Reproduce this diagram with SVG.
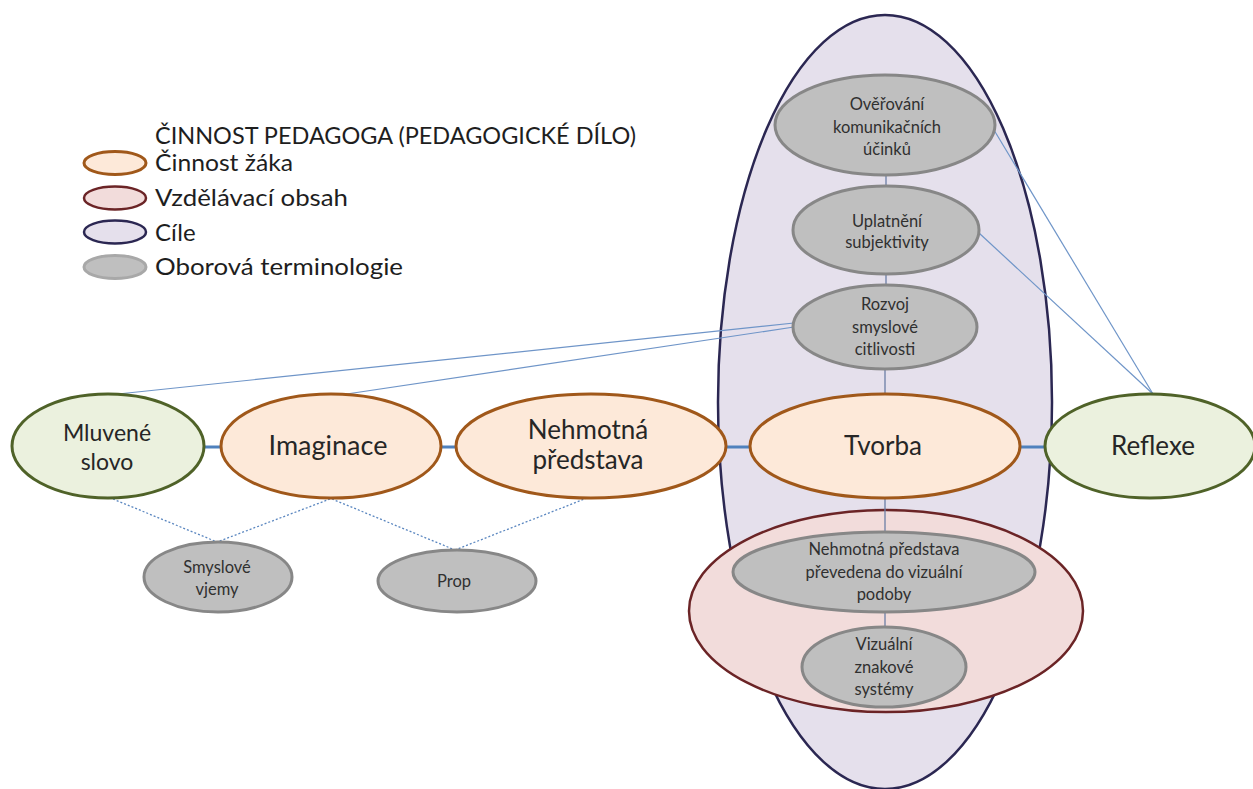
<svg xmlns="http://www.w3.org/2000/svg" width="1253" height="789" viewBox="0 0 1253 789">
  <style>
    text { font-family: Lato, "Liberation Sans", sans-serif; fill: #262626; text-anchor: middle; }
    .legend text, text.legend { text-anchor: start; font-size: 24px; fill: #1e1e1e; }
    .act { fill: #fde9d9; stroke: #a0581a; stroke-width: 3; }
    .ext { fill: #ebf1de; stroke: #4f6228; stroke-width: 3; }
    .goal { fill: #e5e0ec; stroke: #2b2752; stroke-width: 2.5; }
    .content { fill: #f2dcdb; stroke: #6b2426; stroke-width: 2.5; }
    .term { fill: #bfbfbf; stroke: #878787; stroke-width: 3; }
    .big { font-size: 26px; }
    .small { font-size: 16.5px; fill: #303030; }
    .link { stroke: #4f81bd; stroke-width: 3; fill: none; }
    .thin { stroke: #6f95c8; stroke-width: 1.2; fill: none; }
    .stem { stroke: #6b7ea6; stroke-width: 1.3; fill: none; }
    .dot { stroke: #5b87c0; stroke-width: 1.3; stroke-dasharray: 2 2; fill: none; }
  </style>

  <!-- legend -->
  <g id="legend" class="legend">
    <text x="155" y="144" textLength="481" lengthAdjust="spacingAndGlyphs">ČINNOST PEDAGOGA (PEDAGOGICKÉ DÍLO)</text>
    <ellipse class="act" cx="115" cy="163" rx="31" ry="11.5"/>
    <text x="155" y="171" textLength="138" lengthAdjust="spacingAndGlyphs">Činnost žáka</text>
    <ellipse class="content" cx="115" cy="198" rx="31" ry="11.5"/>
    <text x="155" y="206" textLength="193" lengthAdjust="spacingAndGlyphs">Vzdělávací obsah</text>
    <ellipse class="goal" cx="115" cy="232" rx="31" ry="11.5"/>
    <text x="155" y="241">Cíle</text>
    <ellipse cx="115" cy="267" rx="31" ry="11.5" fill="#bfbfbf" stroke="#a8a8a8" stroke-width="3"/>
    <text x="155" y="275" textLength="248" lengthAdjust="spacingAndGlyphs">Oborová terminologie</text>
  </g>

  <!-- goals container -->
  <g id="cile">
    <ellipse class="goal" cx="885" cy="402" rx="167" ry="387"/>
  </g>

  <!-- educational content container -->
  <g id="vzdelavaci-obsah">
    <ellipse class="content" cx="886" cy="611" rx="197" ry="101"/>
  </g>

  <!-- connectors -->
  <g id="connectors">
    <line class="link" x1="108" y1="447" x2="331" y2="447"/>
    <line class="link" x1="331" y1="447" x2="591" y2="447"/>
    <line class="link" x1="591" y1="447" x2="885" y2="447"/>
    <line class="link" x1="885" y1="447" x2="1150" y2="447"/>

    <line class="stem" x1="886" y1="170" x2="886" y2="190"/>
    <line class="stem" x1="886" y1="270" x2="886" y2="288"/>
    <line class="stem" x1="885" y1="366" x2="885" y2="398"/>
    <line class="stem" x1="885" y1="496" x2="885" y2="536"/>
    <line class="stem" x1="885" y1="608" x2="885" y2="631"/>

    <line class="thin" x1="794" y1="323" x2="118" y2="394"/>
    <line class="thin" x1="794" y1="327" x2="340" y2="395"/>
    <line class="thin" x1="994" y1="130" x2="1153" y2="394"/>
    <line class="thin" x1="979" y1="233" x2="1153" y2="394"/>

    <line class="dot" x1="113" y1="499" x2="217" y2="542"/>
    <line class="dot" x1="330" y1="499" x2="217" y2="542"/>
    <line class="dot" x1="332" y1="499" x2="455" y2="550"/>
    <line class="dot" x1="587" y1="498" x2="455" y2="550"/>
  </g>

  <!-- terminology nodes inside goals -->
  <g id="overovani">
    <ellipse class="term" cx="885" cy="125" rx="110" ry="50"/>
    <text class="small" x="887" y="110">Ověřování</text>
    <text class="small" x="887" y="133">komunikačních</text>
    <text class="small" x="887" y="155">účinků</text>
  </g>
  <g id="uplatneni">
    <ellipse class="term" cx="886" cy="230" rx="93" ry="44"/>
    <text class="small" x="887" y="227">Uplatnění</text>
    <text class="small" x="887" y="248">subjektivity</text>
  </g>
  <g id="rozvoj">
    <ellipse class="term" cx="885" cy="327" rx="92" ry="42"/>
    <text class="small" x="885" y="310">Rozvoj</text>
    <text class="small" x="885" y="333">smyslové</text>
    <text class="small" x="885" y="355">citlivosti</text>
  </g>

  <!-- main chain -->
  <g id="mluvene-slovo">
    <ellipse class="ext" cx="108" cy="446" rx="96" ry="52"/>
    <text x="107" y="441" style="font-size:23px">Mluvené</text>
    <text x="107" y="470" style="font-size:23px">slovo</text>
  </g>
  <g id="imaginace">
    <ellipse class="act" cx="331" cy="446" rx="110" ry="52"/>
    <text class="big" x="328" y="455" style="font-size:27px">Imaginace</text>
  </g>
  <g id="nehmotna-predstava">
    <ellipse class="act" cx="591" cy="446" rx="135" ry="52"/>
    <text class="big" x="588" y="439">Nehmotná</text>
    <text class="big" x="588" y="469">představa</text>
  </g>
  <g id="tvorba">
    <ellipse class="act" cx="885" cy="446" rx="135" ry="52"/>
    <text class="big" x="883" y="455">Tvorba</text>
  </g>
  <g id="reflexe">
    <ellipse class="ext" cx="1150" cy="446" rx="105" ry="52"/>
    <text class="big" x="1153" y="455">Reflexe</text>
  </g>

  <!-- terminology nodes below -->
  <g id="smyslove-vjemy">
    <ellipse class="term" cx="218" cy="577" rx="74" ry="35"/>
    <text class="small" x="217" y="573">Smyslové</text>
    <text class="small" x="217" y="595">vjemy</text>
  </g>
  <g id="prop">
    <ellipse class="term" cx="457" cy="581" rx="79" ry="31"/>
    <text class="small" x="454" y="587">Prop</text>
  </g>

  <!-- terminology nodes inside content -->
  <g id="nehmotna-prevedena">
    <ellipse class="term" cx="884" cy="572" rx="151" ry="40"/>
    <text class="small" x="884" y="555">Nehmotná představa</text>
    <text class="small" x="884" y="578">převedena do vizuální</text>
    <text class="small" x="884" y="600">podoby</text>
  </g>
  <g id="vizualni-znakove">
    <ellipse class="term" cx="884" cy="667" rx="82" ry="40"/>
    <text class="small" x="884" y="650">Vizuální</text>
    <text class="small" x="884" y="673">znakové</text>
    <text class="small" x="884" y="695">systémy</text>
  </g>
</svg>
